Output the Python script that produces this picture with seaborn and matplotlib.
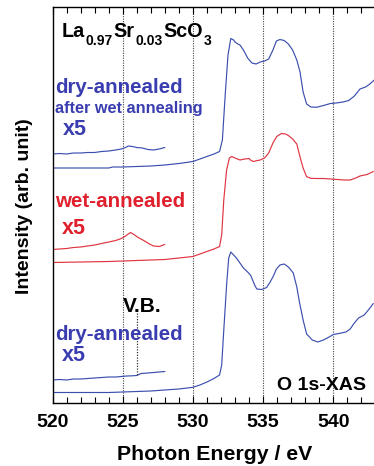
import numpy as np
import pandas as pd
import matplotlib
matplotlib.use("Agg")
import matplotlib.pyplot as plt
import seaborn as sns

# values are read as "pixel height" units: intensity = 403 - screen y
def inten(py):
    return [403 - v for v in py]

# top: dry-annealed after wet annealing
top_E = [520.0, 521.0, 522.0, 523.0, 524.0, 524.3, 525.0, 526.0, 527.0, 528.0, 529.0, 530.0, 530.5, 531.0,
         531.5, 531.9, 532.1, 532.3, 532.5, 532.7, 532.9, 533.0, 533.2, 533.35, 533.6, 533.9, 534.2, 534.5,
         534.8, 535.1, 535.4, 535.7, 535.95, 536.2, 536.5, 536.8, 537.1, 537.4, 537.63, 537.85, 538.1, 538.4,
         538.8, 539.3, 539.8, 540.2, 540.7, 541.1, 541.5, 541.9, 542.3, 542.6, 543.0]
top_py = [168, 168, 168, 168, 168, 167, 167, 166.5, 166, 165, 163.5, 161.5, 159, 156.5,
          154, 151.5, 140, 95, 55, 38.5, 40, 42, 44, 45, 50, 58, 63, 64,
          62, 61, 59, 50, 41, 39.5, 40.5, 44, 50, 60, 72, 92, 104, 107,
          107.3, 105.5, 103.5, 103, 102, 100.5, 96, 89, 87, 84, 79]
top5_E = [520.0, 520.5, 521.0, 521.5, 522.0, 522.5, 523.0, 523.5, 524.0, 524.5, 524.9, 525.2, 525.4,
          525.7, 526.0, 526.4, 526.8, 527.2, 527.6, 528.0]
top5_py = [154, 153.5, 154, 153, 153, 152.5, 152.5, 151.5, 151, 150, 149, 147.5, 146,
           146.5, 147.5, 148, 149.5, 150, 149, 147.5]

# middle: wet-annealed
red_E = [520, 522, 524, 525, 526, 527, 528, 529, 530, 530.5, 531.0, 531.5, 531.9, 532.05, 532.2, 532.4,
         532.6, 532.76, 533.0, 533.35, 533.7, 534.0, 534.1, 534.3, 534.6, 534.8, 535.1, 535.4, 535.7,
         535.97, 536.3, 536.6, 536.8, 537.1, 537.4, 537.63, 537.85, 538.1, 538.4, 538.8, 539.3, 539.8,
         540.3, 540.8, 541.2, 541.6, 541.9, 542.4, 542.85]
red_py = [262.5, 262, 261.5, 261, 260.5, 260, 259.5, 258, 256.5, 254, 251.5, 249, 246.5, 235, 200, 170,
          158, 156.5, 158, 160, 159, 158.5, 160, 161.5, 160.5, 160, 158, 153, 143,
          136.5, 133.5, 134, 135.5, 139, 144, 157, 168, 176.7, 178.3, 178.5, 178.5, 179,
          179.5, 180, 180, 178, 176, 174.5, 171.5]
red5_E = [520, 520.5, 521, 521.5, 522, 522.5, 523, 523.5, 524, 524.5, 524.9, 525.2, 525.55, 525.8,
          526.1, 526.5, 526.9, 527.2, 527.6, 528.0]
red5_py = [249.5, 249, 248.5, 247.5, 247, 246, 245, 243.5, 242, 240.5, 238.5, 236, 232.5, 234.5,
           237.5, 240.5, 244, 246, 246.5, 244.5]

# bottom: dry-annealed
bot_E = [520, 522, 524, 525, 526, 527, 528, 529, 530, 530.5, 531, 531.5, 531.9, 532.05, 532.2, 532.4,
         532.55, 532.7, 532.9, 533.1, 533.35, 533.6, 533.9, 534.1, 534.4, 534.55, 534.9, 535.25, 535.5,
         535.7, 535.95, 536.2, 536.5, 536.8, 537.15, 537.4, 537.6, 537.85, 538.1, 538.5, 538.9, 539.3,
         539.7, 540.0, 540.4, 540.9, 541.2, 541.5, 541.8, 542.2, 542.5, 542.85]
bot_py = [392.5, 392.5, 392.5, 392, 391.5, 391, 390, 389, 387.3, 385, 382, 378.5, 375, 365, 330, 285,
          258, 252, 255, 258, 263, 268, 272, 275, 285, 289, 289.5, 287.5, 282,
          277, 269, 265, 264, 267, 273, 287, 303, 320, 334, 340, 342, 340,
          337, 334.5, 333.5, 332, 329, 323, 318, 315, 310, 303.5]
bot5_E = [520, 520.5, 521, 521.5, 522, 522.5, 523, 523.5, 524, 524.5, 524.9, 525.3, 525.7, 526.0,
          526.3, 526.8, 527.2, 527.6, 528.0]
bot5_py = [380, 379.5, 380, 379, 379, 378.5, 378, 377.5, 377, 377, 376.5, 376, 375.8, 375.5,
           373.5, 373, 372.5, 372, 371.5]

xticks = [520, 525, 530, 535, 540]
formula = [("La", False), ("0.97", True), ("Sr", False), ("0.03", True), ("ScO", False), ("3", True)]

BLUE_LINE = "#3c4fae"
RED_LINE = "#e03440"
BLUE_TXT = "#3a3db0"
RED_TXT = "#e0202c"

sns.set_style("ticks")
plt.rcParams['font.family'] = ['Liberation Sans', 'DejaVu Sans']
plt.rcParams['text.color'] = 'black'

W, H = 374, 466
fig = plt.figure(figsize=(3.74, 4.66), dpi=100)
ax = fig.add_axes([52.5 / W, 1 - 403 / H, 351 / W, 396 / H])

series = [
    (top_E, top_py, BLUE_LINE), (top5_E, top5_py, BLUE_LINE),
    (red_E, red_py, RED_LINE), (red5_E, red5_py, RED_LINE),
    (bot_E, bot_py, BLUE_LINE), (bot5_E, bot5_py, BLUE_LINE),
]
for E, py, c in series:
    df = pd.DataFrame({"E": E, "I": inten(py)})
    sns.lineplot(data=df, x="E", y="I", ax=ax, color=c, lw=0.85, estimator=None, sort=False)

ax.set_xlim(520, 545)
ax.set_ylim(0, 396)
for x in xticks[1:]:
    ax.axvline(x, color="#444444", lw=0.8, ls=(0, (1, 1.2)), zorder=0)

ax.set_xticks(xticks)
ax.set_xticklabels([str(t) for t in xticks], fontsize=14, fontweight="bold", color="black")
ax.set_xticks(np.arange(520, 545, 1), minor=True)
ax.tick_params(axis="x", which="both", direction="in", top=True, bottom=True, width=0.8,
               color="black", labelcolor="black")
ax.tick_params(axis="x", which="major", length=5, pad=8)
ax.tick_params(axis="x", which="minor", length=4)
ax.set_yticks([])
for s in ax.spines.values():
    s.set_linewidth(1.0)
    s.set_color("black")

ax.set_xlabel("")
ax.set_ylabel("")
fig.text(215 / W, 1 - 454 / H, "Photon Energy / eV", fontsize=15.3, fontweight="bold",
         ha="center", va="center", color="black")
fig.text(25 / W, 1 - 206 / H, "Intensity (arb. unit)", rotation=90, fontsize=14,
         fontweight="bold", ha="center", va="center", color="black")

# V.B. marker
ax.plot([526.0, 526.0], [403 - 313, 403 - 375], color="#333333", lw=0.9, ls=(0, (1, 1.2)))

def T(px, py, s, **kw):
    return fig.text(px / W, 1 - py / H, s, va="baseline", fontweight="bold", **kw)

# formula, assembled from pieces placed one after the other
fig.canvas.draw()
renderer = fig.canvas.get_renderer()
xpos = 61.5
for s, sub in formula:
    if sub:
        t = T(xpos, 45, s, fontsize=10, color="black")
    else:
        t = T(xpos, 37, s, fontsize=14.2, color="black")
    bb = t.get_window_extent(renderer)
    xpos = bb.x1 + 0.8

T(55, 93, "dry-annealed", fontsize=14.8, color=BLUE_TXT)
T(55, 113, "after wet annealing", fontsize=11.7, color=BLUE_TXT)
T(63, 135, "x5", fontsize=15.5, color=BLUE_TXT)
T(55, 207, "wet-annealed", fontsize=14.8, color=RED_TXT)
T(62, 234, "x5", fontsize=15.5, color=RED_TXT)
T(55, 340, "dry-annealed", fontsize=14.8, color=BLUE_TXT)
T(62, 361, "x5", fontsize=15.5, color=BLUE_TXT)
T(123, 312, "V.B.", fontsize=15, color="black")
T(277, 390, "O 1s-XAS", fontsize=14, color="black")

fig.savefig("out.png", dpi=100)
